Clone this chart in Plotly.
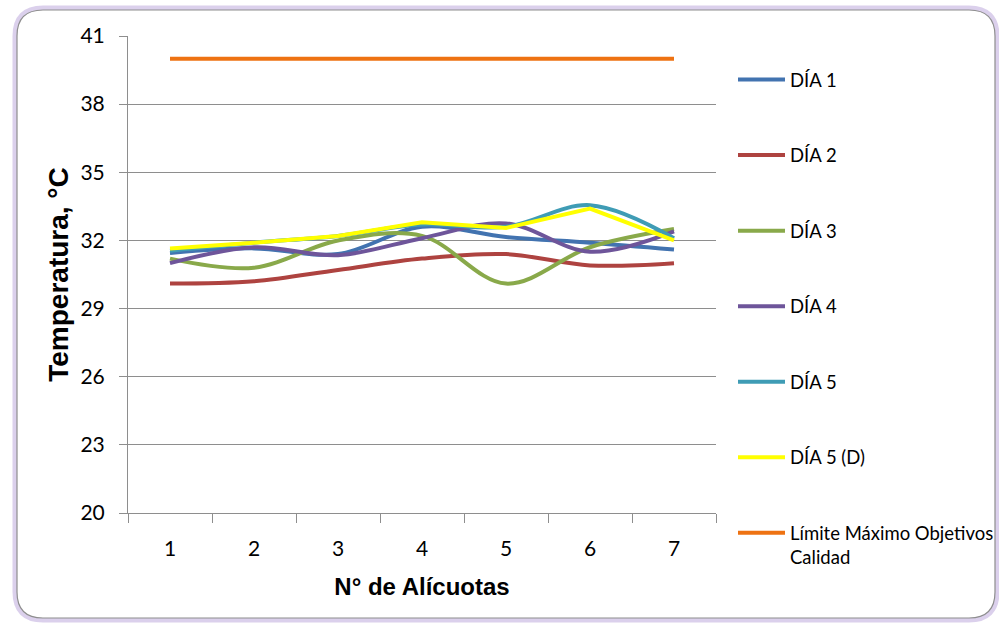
import plotly.graph_objects as go

# Alícuotas (eje de categorías)
alicuotas = ["1", "2", "3", "4", "5", "6", "7"]

# Temperaturas por día, °C
dia1 = [31.45, 31.65, 31.4, 32.6, 32.15, 31.9, 31.6]
dia2 = [30.1, 30.2, 30.7, 31.2, 31.4, 30.9, 31.0]
dia3 = [31.2, 30.8, 32.0, 32.2, 30.1, 31.7, 32.5]
dia4 = [31.0, 31.7, 31.35, 32.1, 32.75, 31.5, 32.4]
dia5 = [31.55, 31.9, 32.2, 32.7, 32.6, 33.55, 32.1]
dia5d = [31.65, 31.9, 32.2, 32.8, 32.55, 33.4, 32.0]
limite = [40, 40, 40, 40, 40, 40, 40]

y_ticks = [20, 23, 26, 29, 32, 35, 38, 41]

series = [
    ("DÍA 1", dia1, "#4273B0", "spline"),
    ("DÍA 2", dia2, "#AE4340", "spline"),
    ("DÍA 3", dia3, "#89A94A", "spline"),
    ("DÍA 4", dia4, "#6E559A", "spline"),
    ("DÍA 5", dia5, "#3F9CB5", "spline"),
    ("DÍA 5 (D)", dia5d, "#FFFF00", "linear"),
    ("Límite Máximo Objetivos<br>Calidad", limite, "#EE7212", "linear"),
]

fig = go.Figure()
for i, (name, vals, color, shape) in enumerate(series):
    fig.add_trace(go.Scatter(
        x=alicuotas, y=vals, name=name, mode="lines",
        line=dict(color=color, width=4, shape=shape, smoothing=1.0),
        legendgroup=f"g{i}",
    ))

# plot area in pixels
L, R, T, B = 128, 716, 36, 513
W, H = 999, 623
pw, ph = R - L, B - T


def px(x):
    return (x - L) / pw


def py(y):
    return (B - y) / ph


def rounded_rect(x0, y0, x1, y1, r):
    rx = r / pw
    ry = r / ph
    a, b, c, d = px(x0), py(y0), px(x1), py(y1)
    return (
        f"M {a + rx} {b} L {c - rx} {b} Q {c} {b} {c} {b - ry} "
        f"L {c} {d + ry} Q {c} {d} {c - rx} {d} "
        f"L {a + rx} {d} Q {a} {d} {a} {d + ry} "
        f"L {a} {b - ry} Q {a} {b} {a + rx} {b} Z"
    )


frame = rounded_rect(17, 10, 995, 618, 26)
shapes = [
    dict(type="path", path=frame, xref="paper", yref="paper",
         line=dict(color="rgba(190,170,220,0.55)", width=9), layer="below"),
    dict(type="path", path=frame, xref="paper", yref="paper",
         line=dict(color="#8E8E8E", width=1.2), fillcolor="white", layer="below"),
]

fig.update_layout(
    width=W, height=H,
    margin=dict(l=L, r=W - R, t=T, b=H - B, autoexpand=False),
    paper_bgcolor="white", plot_bgcolor="rgba(0,0,0,0)",
    shapes=shapes,
    showlegend=True,
    legend=dict(
        x=px(733), xanchor="left", y=py(61), yanchor="top",
        font=dict(family="Lato, sans-serif", size=18.5, color="#000000"),
        tracegroupgap=48.5, traceorder="grouped", maxheight=700,
        itemwidth=47, valign="top",
        bgcolor="rgba(0,0,0,0)",
    ),
    xaxis=dict(
        type="category", range=[-0.5, 6.5],
        showline=True, linecolor="#8E8E8E", linewidth=1,
        ticks="outside", tickson="boundaries", ticklen=9, tickcolor="#8E8E8E",
        ticklabelstandoff=17,
        showgrid=False, zeroline=False,
        tickfont=dict(family="Lato, sans-serif", size=21, color="#000000"),
        title=dict(text="<b>N° de Alícuotas</b>", standoff=18,
                   font=dict(family="Liberation Sans, Arial, sans-serif", size=24, color="#000000")),
    ),
    yaxis=dict(
        range=[20, 41], tickvals=y_ticks, ticktext=[str(v) for v in y_ticks],
        showline=True, linecolor="#8E8E8E", linewidth=1,
        ticks="outside", ticklen=8, tickcolor="#8E8E8E",
        ticklabelstandoff=10,
        showgrid=True, gridcolor="#8E8E8E", gridwidth=1, zeroline=False,
        tickfont=dict(family="Lato, sans-serif", size=21, color="#000000"),
        title=dict(text="<b>Temperatura, °C</b>", standoff=3,
                   font=dict(family="Liberation Sans, Arial, sans-serif", size=28, color="#000000")),
    ),
)

fig.write_html("out.html")
